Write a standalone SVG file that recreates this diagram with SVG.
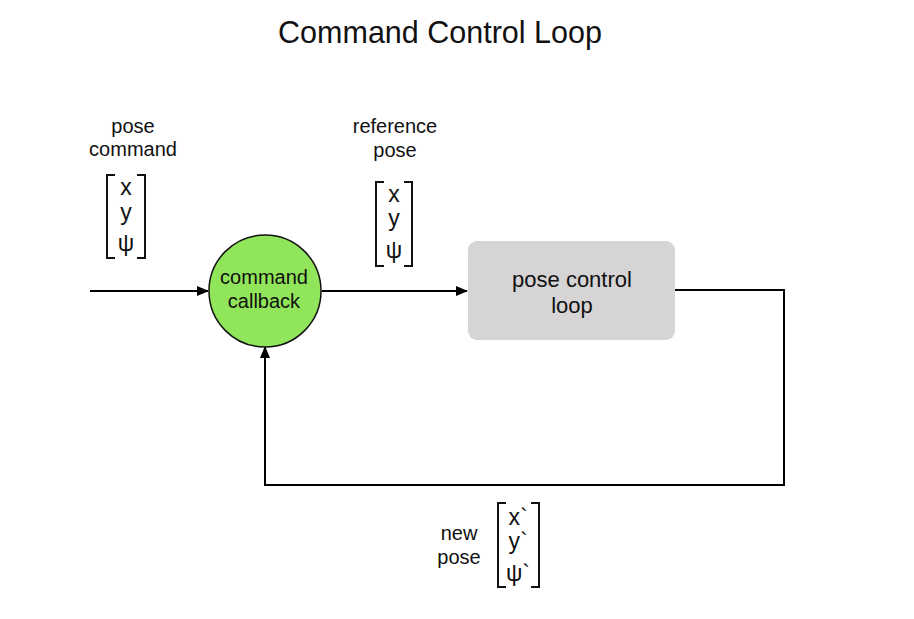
<svg xmlns="http://www.w3.org/2000/svg" width="914" height="619" viewBox="0 0 914 619">
<style>
text{font-family:"Liberation Sans",Arial,sans-serif;fill:#111;text-anchor:middle}
.title{font-size:30.5px}
.lbl{font-size:20px}
.node{font-size:20px}
.box{font-size:22px}
.vec{font-size:23px}
.br{fill:none;stroke:#111;stroke-width:2}
.ln{fill:none;stroke:#000;stroke-width:2}
</style>
<defs>
<marker id="ah" markerWidth="12" markerHeight="10" refX="11" refY="5" orient="auto" markerUnits="userSpaceOnUse">
<path d="M0,0 L12,5 L0,10 Z" fill="#000"/>
</marker>
</defs>
<rect width="914" height="619" fill="#fff"/>
<text class="title" x="440" y="43">Command Control Loop</text>

<g id="connectors">
<line class="ln" x1="90" y1="291" x2="208" y2="291" marker-end="url(#ah)"/>
<line class="ln" x1="322" y1="291" x2="467" y2="291" marker-end="url(#ah)"/>
<polyline class="ln" points="675,290 784,290 784,485 265,485 265,347" marker-end="url(#ah)"/>
</g>

<g id="command-callback">
<circle cx="265" cy="291" r="56" fill="#90e55a" stroke="#111" stroke-width="1.5"/>
<text class="node" x="264" y="284">command</text>
<text class="node" x="264" y="308">callback</text>
</g>

<g id="pose-control-loop">
<rect x="468" y="241" width="207" height="99" rx="9" fill="#d6d4d5"/>
<text class="box" x="572" y="287">pose control</text>
<text class="box" x="572" y="313">loop</text>
</g>

<g id="pose-command">
<text class="lbl" x="133" y="133">pose</text>
<text class="lbl" x="133" y="156">command</text>
<path class="br" d="M115,175 H107 V258 H115"/>
<path class="br" d="M137,175 H145 V258 H137"/>
<text class="vec" x="126" y="195">x</text>
<text class="vec" x="126" y="220">y</text>
<text class="vec" x="126" y="251">ψ</text>
</g>

<g id="reference-pose">
<text class="lbl" x="395" y="133">reference</text>
<text class="lbl" x="395" y="157">pose</text>
<path class="br" d="M384,182 H376 V266 H384"/>
<path class="br" d="M404,182 H412 V266 H404"/>
<text class="vec" x="394" y="202">x</text>
<text class="vec" x="394" y="226">y</text>
<text class="vec" x="394" y="258">ψ</text>
</g>

<g id="new-pose">
<text class="lbl" x="459" y="540">new</text>
<text class="lbl" x="459" y="564">pose</text>
<path class="br" d="M506,503 H498 V587 H506"/>
<path class="br" d="M531,503 H539 V587 H531"/>
<text class="vec" x="518" y="525">x`</text>
<text class="vec" x="518" y="549">y`</text>
<text class="vec" x="518" y="581">ψ`</text>
</g>
</svg>
